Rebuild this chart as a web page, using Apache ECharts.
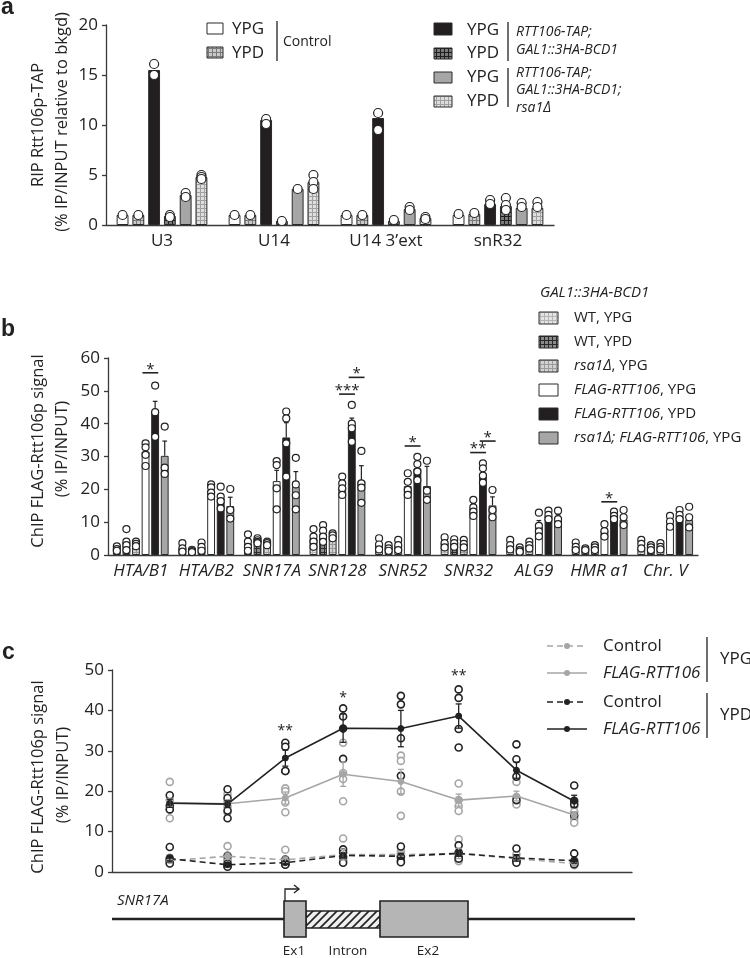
<!DOCTYPE html>
<html><head><meta charset="utf-8">
<script src="https://cdn.jsdelivr.net/npm/echarts@6/dist/echarts.min.js"></script>
<style>html,body{margin:0;padding:0;background:#fff}#c{width:750px;height:958px}</style>
</head><body><div id="c"></div><script>
// ---------------- Panel a data ----------------
const catsA = ['U3', 'U14', 'U14 3’ext', 'snR32'];
const ticksA = [0, 5, 10, 15, 20];
const ctrlYPG_A = [1.0, 1.0, 1.0, 1.0];
const ctrlYPD_A = [1.0, 1.0, 1.0, 1.1];
const tapYPG_A = [15.5, 10.5, 10.7, 2.1];
const tapYPD_A = [0.9, 0.4, 0.4, 1.9];
const rsaYPG_A = [3.0, 3.6, 1.6, 1.7];
const rsaYPD_A = [4.8, 4.3, 0.7, 1.7];
const dotsA = [
  [[1.0], [1.0], [1.0], [1.1]],
  [[1.0], [1.0], [1.0], [1.2]],
  [[16.1, 15.0], [10.6, 10.1], [11.2, 9.5], [2.5, 2.1]],
  [[1.0, 0.8], [0.4], [0.5], [2.7, 2.0, 1.5]],
  [[3.2, 2.8], [3.6], [1.8, 1.5], [2.2, 1.8]],
  [[5.0, 4.8, 4.6], [5.0, 4.3, 3.6], [0.8, 0.6], [2.3, 1.8]]
];
// ---------------- Panel b data ----------------
const catsB = ['HTA/B1', 'HTA/B2', 'SNR17A', 'SNR128', 'SNR52', 'SNR32', 'ALG9', 'HMR a1', 'Chr. V'];
const ticksB = [0, 10, 20, 30, 40, 50, 60];
const wtYPG_B = [2.0, 2.2, 3.5, 5.1, 3.2, 3.8, 2.5, 2.0, 2.5];
const wtYPD_B = [4.0, 1.3, 4.4, 6.5, 2.5, 3.8, 1.8, 1.8, 1.8];
const rsaYPG_B = [3.4, 2.5, 3.6, 5.9, 3.0, 3.5, 3.0, 2.5, 2.2];
const flagYPG_B = [31.5, 19.8, 22.5, 20.8, 21.0, 14.2, 8.7, 7.5, 9.5];
const flagYPD_B = [43.8, 17.3, 35.8, 39.7, 26.4, 24.8, 12.0, 12.0, 11.8];
const rsaFlagYPG_B = [30.2, 14.9, 20.8, 22.6, 21.0, 15.1, 11.0, 10.8, 10.7];
const errFlagYPG_B = [1.5, 0.8, 3.3, 1.0, 1.5, 1.4, 1.8, 1.2, 1.2];
const errFlagYPD_B = [3.0, 1.2, 4.5, 2.0, 1.0, 1.0, 0.8, 0.6, 0.8];
const errRsaFlagYPG_B = [4.5, 2.7, 4.6, 4.6, 6.0, 2.6, 1.3, 1.3, 1.5];
const dotsB = [
  [[2.6, 1.8, 1.3], [3.6, 2.0, 1.0], [6.3, 4.1, 2.5, 1.3], [7.9, 5.6, 4.1, 2.5], [5.1, 3.2, 1.7], [5.4, 3.6, 2.3], [4.6, 3.0, 1.7], [3.8, 2.5, 1.5], [4.6, 3.4, 2.0]],
  [[7.9, 4.1, 3.0, 1.5], [1.6, 1.2, 0.9], [5.1, 4.5, 4.0, 3.6], [9.1, 7.4, 5.6, 4.0], [3.0, 2.0, 1.3], [4.8, 3.6, 2.5], [2.3, 1.5, 1.0], [2.0, 1.5], [3.0, 2.3, 1.5]],
  [[4.1, 3.4, 2.7], [3.8, 2.5, 1.3], [4.1, 3.6, 3.0], [6.6, 6.0, 5.1], [4.6, 3.0, 1.5], [4.6, 3.4, 2.3], [4.1, 3.0, 2.0], [3.0, 2.3, 1.5], [3.6, 2.5, 1.7]],
  [[34.0, 32.8, 30.5, 27.1], [21.5, 20.6, 19.0, 17.8], [28.6, 27.4, 20.3, 13.9], [23.9, 21.8, 20.3, 18.3], [24.9, 22.3, 19.8, 18.3], [16.8, 14.5, 13.2, 11.9], [12.9, 8.9, 7.2, 5.7], [9.4, 7.3, 5.6], [11.9, 10.2, 8.6]],
  [[51.6, 43.5, 36.0], [20.8, 17.8, 16.4, 14.2], [43.7, 41.6, 34.0, 23.9], [45.7, 40.0, 38.6, 34.5], [29.9, 27.7, 25.4, 22.8], [27.9, 26.4, 24.2, 22.0], [13.5, 12.2, 10.9], [13.2, 11.9, 10.9], [13.7, 12.2, 10.9]],
  [[39.1, 26.6, 24.7], [20.1, 13.7, 11.1], [29.6, 21.5, 18.2, 13.9], [31.7, 21.8, 20.5, 15.9], [28.7, 19.6, 16.8], [19.8, 13.7, 11.5], [13.5, 10.9, 9.4], [13.7, 11.5, 9.1], [14.7, 11.5, 8.4]]
];
// [category, y, fromBar, toBar, stars]
const sigB = [[0, 55.5, 3, 4, 1], [3, 49.0, 3, 4, 3], [3, 54.1, 4, 5, 1], [4, 33.2, 3, 4, 1], [5, 31.2, 3, 4, 2], [5, 34.7, 4, 5, 1], [7, 16.2, 3, 4, 1]];
// ---------------- Panel c data ----------------
const posC = [1, 2, 3, 4, 5, 6, 7, 8];
const ticksC = [0, 10, 20, 30, 40, 50];
const ctrlYPG_C = [2.8, 3.9, 3.0, 4.3, 4.3, 4.6, 3.3, 2.1];
const flagYPG_C = [17.2, 16.9, 18.3, 24.2, 22.4, 17.8, 18.8, 14.1];
const ctrlYPD_C = [3.3, 1.8, 2.3, 4.1, 3.9, 4.6, 3.5, 2.8];
const flagYPD_C = [17.0, 16.8, 28.2, 35.6, 35.5, 38.6, 25.2, 17.5];
const errCtrlYPG_C = [0.3, 0.8, 0.7, 1.3, 0.4, 1.3, 0.4, 0.2];
const errFlagYPG_C = [1.0, 1.0, 1.5, 3.0, 3.0, 1.5, 1.2, 0.8];
const errCtrlYPD_C = [0.8, 0.5, 0.3, 0.6, 0.7, 0.7, 0.8, 0.6];
const errFlagYPD_C = [1.0, 0.8, 2.0, 3.5, 4.5, 3.0, 2.0, 1.5];
const dotsCtrlYPG_C = [[3.5, 3.1, 2.5, 2.2], [6.4, 3.3, 3.0, 2.9], [5.5, 2.6, 2.2, 1.9], [8.3, 3.2, 2.9, 2.7], [5.2, 4.5, 3.9, 3.5], [8.1, 4.8, 2.9, 2.7], [4.4, 3.0, 2.9, 2.7], [2.3, 2.1, 1.9, 1.7]];
const dotsFlagYPG_C = [[22.3, 17.8, 15.5, 13.3], [19.3, 17.5, 16.2, 14.8], [20.7, 20.0, 17.2, 14.8], [32.0, 24.5, 23.0, 17.5], [28.8, 27.5, 19.9, 13.9], [21.9, 17.8, 16.3, 15.1], [22.3, 18.5, 17.2, 16.7], [16.3, 14.9, 13.2, 12.2]];
const dotsCtrlYPD_C = [[6.2, 3.3, 2.7, 2.1], [4.0, 2.1, 1.5, 1.3], [3.1, 2.3, 1.9, 1.8], [5.6, 4.8, 3.8, 2.3], [6.3, 3.8, 2.7, 2.4], [6.6, 4.8, 3.7, 3.3], [5.8, 3.3, 2.7, 2.3], [4.6, 2.7, 2.1, 1.9]];
const dotsFlagYPD_C = [[19.0, 16.4, 15.5], [20.5, 18.3, 15.2, 13.3], [32.0, 31.0, 25.0, 25.0], [40.5, 38.5, 35.5, 28.0], [43.6, 41.5, 33.1, 23.8], [45.2, 43.1, 35.4, 30.8], [31.6, 27.9, 23.6, 17.8], [21.4, 17.6, 16.8, 14.0]];
// [position, y, stars]
const sigC = [[3, 34.8, 2], [4, 43.0, 1], [6, 48.5, 2]];

// ---------------- styling helpers ----------------
const FONT = "'Open Sans', 'Noto Sans', sans-serif";
const INK = '#222';
const BLACK = '#231f20';
const GRAY = '#a6a6a6';
const CG_A = 0.19, BG_A = 0.33, CG_B = 0.15, BG_B = 0.22;
function grid(lines, sq) {
  const c = document.createElement('canvas'); c.width = 4; c.height = 4;
  const g = c.getContext('2d');
  g.fillStyle = sq; g.fillRect(0, 0, 4, 4);
  g.fillStyle = lines; g.fillRect(0, 0, 4, 1); g.fillRect(0, 0, 1, 4);
  return { image: c, repeat: 'repeat' };
}
function hatch() {
  const c = document.createElement('canvas'); c.width = 8; c.height = 8;
  const g = c.getContext('2d');
  g.fillStyle = '#efefef'; g.fillRect(0, 0, 8, 8);
  g.strokeStyle = '#222'; g.lineWidth = 1.6;
  g.beginPath(); g.moveTo(-1, 9); g.lineTo(9, -1); g.moveTo(-5, 5); g.lineTo(5, -5); g.moveTo(3, 13); g.lineTo(13, 3); g.stroke();
  return { image: c, repeat: 'repeat' };
}
const P_CTRL_YPD = grid('#7a7a7a', '#c9c9c9');
const P_DARK = grid('#1e1e1e', '#7a7a7a');
const P_LIGHT = grid('#a0a0a0', '#dedede');
const P_WT_YPG = grid('#b4b4b4', '#e4e4e4');
const P_WT_YPD = grid('#2a2a2a', '#8a8a8a');
const P_RSA_YPG = grid('#9a9a9a', '#d2d2d2');
const P_HATCH = hatch();

function offset(api, si, n, cg, bg) {
  const band = api.size([1, 0])[0];
  const grp = band * (1 - cg);
  const bw = grp / (n + (n - 1) * bg);
  return { dx: -grp / 2 + bw / 2 + si * bw * (1 + bg), bw };
}
function flatDots(d) {
  const out = [];
  d.forEach((ser, si) => ser.forEach((vals, ci) => vals.forEach(v => out.push([ci, v, si]))));
  return out;
}
function barSeries(ax, data, color, cg, bg) {
  return { type: 'bar', xAxisIndex: ax, yAxisIndex: ax, data, barCategoryGap: (cg * 100) + '%', barGap: (bg * 100) + '%',
    itemStyle: { color, borderColor: '#2a2a2a', borderWidth: 1 }, z: 2, silent: true };
}
function dotSeries(ax, data, n, cg, bg, r) {
  return { type: 'custom', xAxisIndex: ax, yAxisIndex: ax, data, z: 6, silent: true, encode: { x: 0, y: 1 },
    renderItem: (p, api) => {
      const o = offset(api, api.value(2), n, cg, bg);
      const pt = api.coord([api.value(0), api.value(1)]);
      return { type: 'circle', shape: { cx: pt[0] + o.dx, cy: pt[1], r }, style: { fill: '#fff', stroke: INK, lineWidth: 1.2 } };
    } };
}
function errBarSeries(ax, data, n, cg, bg) {
  return { type: 'custom', xAxisIndex: ax, yAxisIndex: ax, data, z: 4, silent: true, encode: { x: 0, y: 1 },
    renderItem: (p, api) => {
      const o = offset(api, api.value(3), n, cg, bg);
      const a = api.coord([api.value(0), api.value(1)]);
      const b = api.coord([api.value(0), api.value(1) + api.value(2)]);
      const x = a[0] + o.dx, cw = o.bw * 0.3;
      return { type: 'group', children: [
        { type: 'line', shape: { x1: x, y1: a[1], x2: x, y2: b[1] }, style: { stroke: INK, lineWidth: 1.2 } },
        { type: 'line', shape: { x1: x - cw, y1: b[1], x2: x + cw, y2: b[1] }, style: { stroke: INK, lineWidth: 1.2 } }
      ] };
    } };
}
function sigBarSeries(ax, data, n, cg, bg) {
  return { type: 'custom', xAxisIndex: ax, yAxisIndex: ax, data, z: 7, silent: true, encode: { x: 0, y: 1 },
    renderItem: (p, api) => {
      const o1 = offset(api, api.value(2), n, cg, bg), o2 = offset(api, api.value(3), n, cg, bg);
      const pt = api.coord([api.value(0), api.value(1)]);
      const x1 = pt[0] + o1.dx - o1.bw * 0.4, x2 = pt[0] + o2.dx + o2.bw * 0.4;
      return { type: 'group', children: [
        { type: 'line', shape: { x1, y1: pt[1], x2, y2: pt[1] }, style: { stroke: INK, lineWidth: 1.6 } },
        { type: 'text', x: (x1 + x2) / 2, y: pt[1] + 4, style: { text: '*'.repeat(api.value(4)), fill: INK, font: '15px ' + FONT, align: 'center', verticalAlign: 'bottom' } }
      ] };
    } };
}
function pairs(xs, ys) { return xs.map((x, i) => [x, ys[i]]); }
function errDataC(ys, es) { return posC.map((x, i) => [x, ys[i], es[i]]); }
function flatC(d) { const out = []; d.forEach((vals, i) => vals.forEach(v => out.push([posC[i], v]))); return out; }
function errSeriesC(data, color) {
  return { type: 'custom', xAxisIndex: 2, yAxisIndex: 2, data, z: 5, silent: true, encode: { x: 0, y: 1 },
    renderItem: (p, api) => {
      const x = api.value(0), y = api.value(1), e = api.value(2);
      const t = api.coord([x, y + e]), b = api.coord([x, y - e]);
      return { type: 'group', children: [
        { type: 'line', shape: { x1: t[0], y1: t[1], x2: b[0], y2: b[1] }, style: { stroke: color, lineWidth: 1.3 } },
        { type: 'line', shape: { x1: t[0] - 3, y1: t[1], x2: t[0] + 3, y2: t[1] }, style: { stroke: color, lineWidth: 1.3 } },
        { type: 'line', shape: { x1: b[0] - 3, y1: b[1], x2: b[0] + 3, y2: b[1] }, style: { stroke: color, lineWidth: 1.3 } }
      ] };
    } };
}
function scatterC(data, color) {
  return { type: 'scatter', xAxisIndex: 2, yAxisIndex: 2, data, symbol: 'circle', symbolSize: 7, z: 3, silent: true,
    itemStyle: { color: '#fff', borderColor: color, borderWidth: 1.6, opacity: 1 } };
}
function lineC(ys, color, dashed) {
  return { type: 'line', xAxisIndex: 2, yAxisIndex: 2, data: pairs(posC, ys), symbol: 'circle', symbolSize: 6, z: 4, silent: true,
    lineStyle: { color, width: 1.6, type: dashed ? [6, 4] : 'solid' }, itemStyle: { color, borderColor: color } };
}
const axisLine = { show: true, lineStyle: { color: '#3a3a3a', width: 1.3 } };
const yLabel = { fontFamily: FONT, fontSize: 17, color: INK, margin: 8 };
function yAx(gi, max, step) {
  return { type: 'value', gridIndex: gi, min: 0, max, interval: step, axisLine, splitLine: { show: false },
    axisTick: { show: true, length: 4, lineStyle: { color: '#3a3a3a', width: 1.3 } }, axisLabel: yLabel };
}

// ---------------- graphics (axis titles, legends, gene diagram) ----------------
const T = (x, y, text, size, extra) => Object.assign({ type: 'text', x, y, style: Object.assign({ text, fill: INK, font: size + 'px ' + FONT, verticalAlign: 'middle' }, extra || {}) });
const TI = (x, y, text, size, extra) => T(x, y, text, size, Object.assign({ font: 'italic ' + size + 'px ' + FONT }, extra || {}));
const VT = (x, y, text) => ({ type: 'text', x, y, rotation: Math.PI / 2, style: { text, fill: INK, font: '16.5px ' + FONT, align: 'center', verticalAlign: 'middle' } });
const R = (x, y, w, h, fill) => ({ type: 'rect', shape: { x, y, width: w, height: h }, style: { fill, stroke: '#2a2a2a', lineWidth: 1 } });
const L = (x1, y1, x2, y2, w, color, dash) => ({ type: 'line', shape: { x1, y1, x2, y2 }, style: { stroke: color || INK, lineWidth: w || 1.3, lineDash: dash || null } });
const rich = { i: { fontStyle: 'italic', fontFamily: FONT, fontSize: 15, fill: INK }, n: { fontFamily: FONT, fontSize: 15, fill: INK } };
const RT = (x, y, text) => ({ type: 'text', x, y, style: { text, rich, verticalAlign: 'middle', font: '15px ' + FONT } });

const graphics = [
  T(1, 8, 'a', 23, { font: 'bold 23px Liberation Sans, Arial, sans-serif' }),
  T(1, 330, 'b', 23, { font: 'bold 23px Liberation Sans, Arial, sans-serif' }),
  T(2, 653, 'c', 23, { font: 'bold 23px Liberation Sans, Arial, sans-serif' }),
  // axis titles
  VT(38, 125, 'RIP Rtt106p-TAP'), VT(62, 122, '(% IP/INPUT relative to bkgd)'),
  VT(38, 451, 'ChIP FLAG-Rtt106p signal'), VT(62, 449, '(% IP/INPUT)'),
  VT(38, 777, 'ChIP FLAG-Rtt106p signal'), VT(63, 775, '(% IP/INPUT)'),
  // panel a legends
  R(207, 23, 16, 11, '#fff'), T(232, 29, 'YPG', 17),
  R(207, 47, 16, 11, P_CTRL_YPD), T(232, 53, 'YPD', 17),
  L(277, 21, 277, 61), T(283, 42, 'Control', 14),
  R(434, 23, 18, 12, BLACK), T(467, 30, 'YPG', 17),
  R(434, 48, 18, 11, P_DARK), T(467, 53, 'YPD', 17),
  L(508, 22, 508, 61), TI(516, 32, 'RTT106-TAP;', 14), TI(516, 50, 'GAL1::3HA-BCD1', 14),
  R(434, 72, 18, 11, GRAY), T(467, 77, 'YPG', 17),
  R(434, 96, 18, 11, P_LIGHT), T(467, 101, 'YPD', 17),
  L(508, 68, 508, 107), TI(516, 73, 'RTT106-TAP;', 14), TI(516, 90, 'GAL1::3HA-BCD1;', 14), TI(516, 108, 'rsa1Δ', 14),
  // panel b legend
  TI(540, 293, 'GAL1::3HA-BCD1', 15),
  R(539, 312, 19, 12, P_WT_YPG), RT(574, 318, '{n|WT, YPG}'),
  R(539, 336, 19, 12, P_WT_YPD), RT(574, 342, '{n|WT, YPD}'),
  R(539, 360, 19, 12, P_RSA_YPG), RT(574, 366, '{i|rsa1Δ}{n|, YPG}'),
  R(539, 384, 19, 12, '#fff'), RT(574, 390, '{i|FLAG-RTT106}{n|, YPG}'),
  R(539, 408, 19, 12, BLACK), RT(574, 414, '{i|FLAG-RTT106}{n|, YPD}'),
  R(539, 432, 19, 12, GRAY), RT(574, 438, '{i|rsa1Δ; FLAG-RTT106}{n|, YPG}'),
  // panel c legend
  L(547, 646, 587, 646, 1.5, GRAY, [6, 4]), { type: 'circle', shape: { cx: 567, cy: 646, r: 3 }, style: { fill: GRAY } }, T(603, 646, 'Control', 17),
  L(547, 673, 587, 673, 1.5, GRAY), { type: 'circle', shape: { cx: 567, cy: 673, r: 3 }, style: { fill: GRAY } }, TI(603, 673, 'FLAG-RTT106', 17),
  L(547, 702, 587, 702, 1.5, INK, [6, 4]), { type: 'circle', shape: { cx: 567, cy: 702, r: 3 }, style: { fill: INK } }, T(603, 702, 'Control', 17),
  L(547, 729, 587, 729, 1.5, INK), { type: 'circle', shape: { cx: 567, cy: 729, r: 3 }, style: { fill: INK } }, TI(603, 729, 'FLAG-RTT106', 17),
  L(707, 637, 707, 682), T(720, 659, 'YPG', 17),
  L(707, 693, 707, 738), T(720, 715, 'YPD', 17),
  // gene diagram
  TI(117, 901, 'SNR17A', 15),
  L(112, 919, 635, 919, 2.6, INK),
  { type: 'rect', shape: { x: 306, y: 911, width: 74, height: 17 }, style: { fill: P_HATCH, stroke: INK, lineWidth: 1.6 } },
  { type: 'rect', shape: { x: 284, y: 901, width: 22, height: 36 }, style: { fill: '#b5b5b5', stroke: INK, lineWidth: 1.6 } },
  { type: 'rect', shape: { x: 380, y: 901, width: 88, height: 36 }, style: { fill: '#b5b5b5', stroke: INK, lineWidth: 1.6 } },
  { type: 'polyline', shape: { points: [[285, 901], [285, 889], [299, 889]] }, style: { stroke: INK, lineWidth: 1.3, fill: null } },
  { type: 'polyline', shape: { points: [[294, 885], [299, 889], [294, 893]] }, style: { stroke: INK, lineWidth: 1.3, fill: null } },
  T(294, 951, 'Ex1', 13.5, { align: 'center' }), T(348, 951, 'Intron', 13.5, { align: 'center' }), T(428, 951, 'Ex2', 13.5, { align: 'center' })
];

// ---------------- error data for b ----------------
const errB = [];
[[3, flagYPG_B, errFlagYPG_B], [4, flagYPD_B, errFlagYPD_B], [5, rsaFlagYPG_B, errRsaFlagYPG_B]].forEach(([si, v, e]) => v.forEach((val, ci) => errB.push([ci, val, e[ci], si])));

const option = {
  animation: false,
  backgroundColor: '#fff',
  textStyle: { fontFamily: FONT },
  grid: [
    { left: 106, top: 25, width: 448, height: 200 },
    { left: 108, top: 358, width: 590, height: 197 },
    { left: 112, top: 670, width: 520, height: 202 }
  ],
  xAxis: [
    { type: 'category', gridIndex: 0, data: catsA, axisLine, axisTick: { show: false }, axisLabel: { fontFamily: FONT, fontSize: 17, color: INK, margin: 8 } },
    { type: 'category', gridIndex: 1, data: catsB, axisLine, axisTick: { show: false }, axisLabel: { fontFamily: FONT, fontSize: 17, fontStyle: 'italic', color: INK, margin: 8, interval: 0 } },
    { type: 'value', gridIndex: 2, min: 0, max: 9, axisLine, axisTick: { show: false }, axisLabel: { show: false }, splitLine: { show: false } }
  ],
  yAxis: [
    yAx(0, ticksA[ticksA.length - 1], ticksA[1] - ticksA[0]),
    yAx(1, ticksB[ticksB.length - 1], ticksB[1] - ticksB[0]),
    yAx(2, ticksC[ticksC.length - 1], ticksC[1] - ticksC[0])
  ],
  series: [
    barSeries(0, ctrlYPG_A, '#fff', CG_A, BG_A),
    barSeries(0, ctrlYPD_A, P_CTRL_YPD, CG_A, BG_A),
    barSeries(0, tapYPG_A, BLACK, CG_A, BG_A),
    barSeries(0, tapYPD_A, P_DARK, CG_A, BG_A),
    barSeries(0, rsaYPG_A, GRAY, CG_A, BG_A),
    barSeries(0, rsaYPD_A, P_LIGHT, CG_A, BG_A),
    dotSeries(0, flatDots(dotsA), 6, CG_A, BG_A, 4.5),
    barSeries(1, wtYPG_B, P_WT_YPG, CG_B, BG_B),
    barSeries(1, wtYPD_B, P_WT_YPD, CG_B, BG_B),
    barSeries(1, rsaYPG_B, P_RSA_YPG, CG_B, BG_B),
    barSeries(1, flagYPG_B, '#fff', CG_B, BG_B),
    barSeries(1, flagYPD_B, BLACK, CG_B, BG_B),
    barSeries(1, rsaFlagYPG_B, GRAY, CG_B, BG_B),
    errBarSeries(1, errB, 6, CG_B, BG_B),
    dotSeries(1, flatDots(dotsB), 6, CG_B, BG_B, 3.5),
    sigBarSeries(1, sigB, 6, CG_B, BG_B),
    scatterC(flatC(dotsCtrlYPG_C), GRAY),
    scatterC(flatC(dotsFlagYPG_C), GRAY),
    scatterC(flatC(dotsCtrlYPD_C), INK),
    scatterC(flatC(dotsFlagYPD_C), INK),
    lineC(ctrlYPG_C, GRAY, true),
    lineC(flagYPG_C, GRAY, false),
    lineC(ctrlYPD_C, INK, true),
    lineC(flagYPD_C, INK, false),
    errSeriesC(errDataC(flagYPG_C, errFlagYPG_C), GRAY),
    errSeriesC(errDataC(ctrlYPG_C, errCtrlYPG_C), GRAY),
    errSeriesC(errDataC(flagYPD_C, errFlagYPD_C), INK),
    errSeriesC(errDataC(ctrlYPD_C, errCtrlYPD_C), INK),
    { type: 'custom', xAxisIndex: 2, yAxisIndex: 2, data: sigC, z: 7, silent: true, encode: { x: 0, y: 1 },
      renderItem: (p, api) => {
        const pt = api.coord([api.value(0), api.value(1)]);
        return { type: 'text', x: pt[0], y: pt[1], style: { text: '*'.repeat(api.value(2)), fill: INK, font: '14px ' + FONT, align: 'center', verticalAlign: 'middle' } };
      } }
  ],
  graphic: graphics
};
const chart = echarts.init(document.getElementById('c'));
chart.setOption(option);
</script></body></html>
